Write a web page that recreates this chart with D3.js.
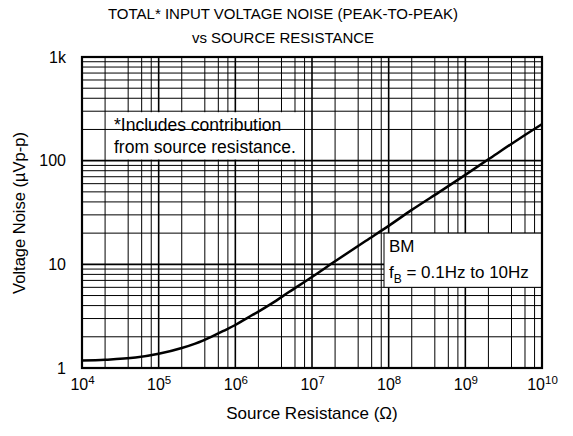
<!DOCTYPE html>
<html><head><meta charset="utf-8">
<script src="https://cdn.jsdelivr.net/npm/d3@7"></script>
<style>body{margin:0;background:#fff}svg{display:block;font-family:"Liberation Sans",Arial,sans-serif}</style>
</head><body>
<svg id="c" width="573" height="436"></svg>
<script>
// Data
const resistance = [1e4, 2e4, 5e4, 1e5, 2e5, 3e5, 5e5, 7e5, 1e6, 1.5e6, 2e6, 3e6, 5e6, 1e7, 2e7, 5e7, 1e8, 2e8, 5e8, 1e9, 2e9, 5e9, 1e10];
const noise = [1.18, 1.2, 1.26, 1.37, 1.56, 1.72, 2.02, 2.28, 2.6, 3.1, 3.5, 4.2, 5.4, 7.55, 10.7, 16.8, 23.5, 33.5, 52, 73, 103, 162, 225];
const xTickExponents = [4, 5, 6, 7, 8, 9, 10];
const yTickValues = [1, 10, 100, 1000];
const yTickLabels = ["1", "10", "100", "1k"];
const titleLines = ["TOTAL* INPUT VOLTAGE NOISE (PEAK-TO-PEAK)", "vs SOURCE RESISTANCE"];

const svg = d3.select("#c");
const L = 82, R = 542, T = 57, B = 368;
const x = d3.scaleLog().domain([1e4, 1e10]).range([L, R]);
const y = d3.scaleLog().domain([1, 1000]).range([B, T]);

const xMajor = xTickExponents.map(e => Math.pow(10, e));
const xMinor = [];
for (let e = 4; e < 10; e++) [2, 4, 6, 8].forEach(m => xMinor.push(m * Math.pow(10, e)));
const yMinor = [];
for (let e = 0; e < 3; e++) for (let m = 2; m <= 9; m++) yMinor.push(m * Math.pow(10, e));

const g = svg.append("g");
g.selectAll(".vmin").data(xMinor).join("line")
  .attr("x1", d => x(d)).attr("x2", d => x(d)).attr("y1", T).attr("y2", B)
  .attr("stroke", "#000").attr("stroke-width", 1);
g.selectAll(".vmaj").data(xMajor).join("line")
  .attr("x1", d => x(d)).attr("x2", d => x(d)).attr("y1", T).attr("y2", B)
  .attr("stroke", "#000").attr("stroke-width", 1.6);

g.append("rect").attr("x", 109).attr("y", y(300) + 1).attr("width", 192).attr("height", y(100) - y(300) - 2).attr("fill", "#fff");

g.selectAll(".hmin").data(yMinor).join("line")
  .attr("x1", L).attr("x2", R).attr("y1", d => y(d)).attr("y2", d => y(d))
  .attr("stroke", "#000").attr("stroke-width", 1);
g.selectAll(".hmaj").data(yTickValues).join("line")
  .attr("x1", L).attr("x2", R).attr("y1", d => y(d)).attr("y2", d => y(d))
  .attr("stroke", "#000").attr("stroke-width", 1.6);

const line = d3.line().x((d, i) => x(resistance[i])).y(d => y(d)).curve(d3.curveMonotoneX);
g.append("path").attr("d", line(noise)).attr("fill", "none").attr("stroke", "#000").attr("stroke-width", 2.5);

g.append("rect").attr("x", 384).attr("y", y(20)).attr("width", R - 384).attr("height", y(6) - y(20))
  .attr("fill", "#fff").attr("stroke", "#000").attr("stroke-width", 1);
g.append("text").attr("x", 389).attr("y", 252).attr("font-size", 17).text("BM");
const fb = g.append("text").attr("x", 389).attr("y", 278).attr("font-size", 17);
fb.append("tspan").text("f");
fb.append("tspan").attr("dy", 5).attr("font-size", 12).text("B");
fb.append("tspan").attr("dy", -5).text(" = 0.1Hz to 10Hz");

g.append("text").attr("x", 114).attr("y", 131).attr("font-size", 17.5).text("*Includes contribution");
g.append("text").attr("x", 114).attr("y", 153).attr("font-size", 17.5).text("from source resistance.");

g.append("rect").attr("x", L).attr("y", T).attr("width", R - L).attr("height", B - T)
  .attr("fill", "none").attr("stroke", "#000").attr("stroke-width", 2.2);

const xa = svg.append("g").attr("transform", `translate(0,${B})`)
  .call(d3.axisBottom(x).tickValues(xMajor).tickSize(0).tickFormat(""));
xa.select(".domain").remove();
xa.selectAll(".tick").each(function(d) {
  const e = Math.round(Math.log10(d));
  const t = d3.select(this).append("text").attr("fill", "#000").attr("y", 22)
    .attr("text-anchor", "middle").attr("font-size", 16).attr("font-family", "Liberation Sans, Arial, sans-serif");
  t.append("tspan").text("10");
  t.append("tspan").attr("dy", -6).attr("font-size", 11.5).text(e);
});
const ya = svg.append("g").attr("transform", `translate(${L},0)`)
  .call(d3.axisLeft(y).tickValues(yTickValues).tickSize(0).tickPadding(16)
    .tickFormat((d, i) => yTickLabels[i]));
ya.select(".domain").remove();
ya.selectAll("text").attr("font-size", 16).attr("fill", "#000").attr("font-family", "Liberation Sans, Arial, sans-serif");

svg.append("text").attr("x", 283).attr("y", 18.5).attr("text-anchor", "middle").attr("font-size", 15).text(titleLines[0]);
svg.append("text").attr("x", 283).attr("y", 42.5).attr("text-anchor", "middle").attr("font-size", 15).text(titleLines[1]);
svg.append("text").attr("x", 312).attr("y", 419).attr("text-anchor", "middle").attr("font-size", 17).text("Source Resistance (Ω)");
svg.append("text").attr("transform", "translate(25,213) rotate(-90)").attr("text-anchor", "middle").attr("font-size", 16.5).text("Voltage Noise (µVp-p)");
</script>
</body></html>
